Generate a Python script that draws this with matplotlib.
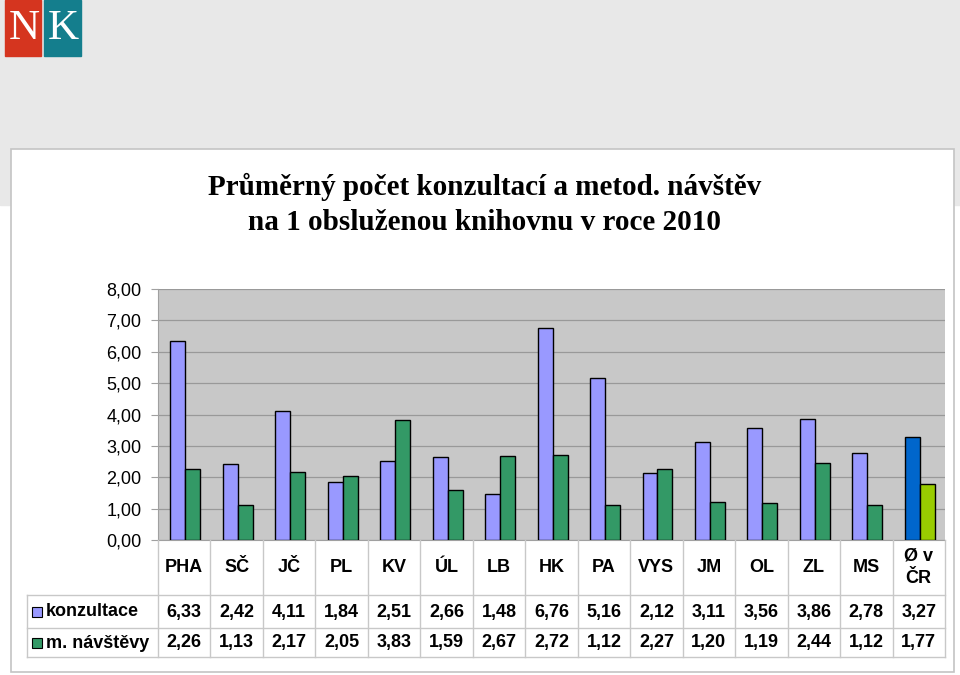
import numpy as np
import matplotlib
matplotlib.use('Agg')
import matplotlib.pyplot as plt
from matplotlib.patches import Rectangle

# data
categories = ['PHA', 'SČ', 'JČ', 'PL', 'KV', 'ÚL', 'LB', 'HK', 'PA', 'VYS',
              'JM', 'OL', 'ZL', 'MS', 'Ø v\nČR']
konzultace = [6.33, 2.42, 4.11, 1.84, 2.51, 2.66, 1.48, 6.76, 5.16, 2.12,
              3.11, 3.56, 3.86, 2.78, 3.27]
navstevy = [2.26, 1.13, 2.17, 2.05, 3.83, 1.59, 2.67, 2.72, 1.12, 2.27,
            1.20, 1.19, 2.44, 1.12, 1.77]
series_names = ['konzultace', 'm. návštěvy']
y_ticks = [0, 1, 2, 3, 4, 5, 6, 7, 8]
title_lines = ['Průměrný počet konzultací a metod. návštěv',
               'na 1 obsluženou knihovnu v roce 2010']

W, H = 960, 675
SANS = 'Liberation Sans'
SERIF = 'Liberation Serif'
FS = 13


def fmt(v):
    return f'{v:.2f}'.replace('.', ',')


def px(x0, y0, x1, y1):
    # pixel box (top-left origin) -> figure fraction rect
    return [x0 / W, 1 - y1 / H, (x1 - x0) / W, (y1 - y0) / H]


fig = plt.figure(figsize=(9.6, 6.75), dpi=100, facecolor='white')

# background, slide header, logo, white chart panel
bg = fig.add_axes([0, 0, 1, 1])
bg.set_xlim(0, W)
bg.set_ylim(H, 0)
bg.axis('off')
bg.add_patch(Rectangle((0, 0), W, 205, color='#E8E8E8'))
bg.add_patch(Rectangle((5, 0), 36, 56, color='#D5351F'))
bg.add_patch(Rectangle((44, 0), 37, 56, color='#147E8D'))
bg.text(24, 29, 'N', color='white', family=SERIF, fontsize=31,
        ha='center', va='center')
bg.text(63, 29, 'K', color='white', family=SERIF, fontsize=31,
        ha='center', va='center')
bg.add_patch(Rectangle((11, 149), 943, 523, facecolor='white',
                       edgecolor='#C4C4C4', lw=1.2))
bg.text(485, 187, title_lines[0], family=SERIF, fontweight='bold',
        fontsize=21, ha='center', va='center')
bg.text(485, 222, title_lines[1], family=SERIF, fontweight='bold',
        fontsize=21, ha='center', va='center')

# bar chart
ax = fig.add_axes(px(158, 289, 945, 540))
n = len(categories)
x = np.arange(n)
c1 = ['#9999FF'] * (n - 1) + ['#0066CC']
c2 = ['#339966'] * (n - 1) + ['#99CC00']
w = 0.285
ax.bar(x + 0.52, konzultace, width=-w, align='edge', color=c1,
       edgecolor='black', lw=1, zorder=3)
ax.bar(x + 0.52, navstevy, width=w, align='edge', color=c2,
       edgecolor='black', lw=1, zorder=3)
ax.set_xlim(0, n)
ax.set_ylim(0, 8)
ax.set_facecolor('#C8C8C8')
ax.yaxis.grid(True, color='#999999', lw=0.9)
ax.set_axisbelow(True)
ax.set_yticks(y_ticks)
ax.set_yticklabels([fmt(v) for v in y_ticks], family=SANS, fontsize=FS)
ax.set_xticks([])
ax.tick_params(axis='y', length=5, color='#A0A0A0', pad=7)
for s in ['top', 'right']:
    ax.spines[s].set_visible(False)
ax.spines['left'].set_color('#A0A0A0')
ax.spines['bottom'].set_color('#A0A0A0')

# data table under the chart
tb = fig.add_axes(px(158, 540, 945, 657))
tb.set_xlim(0, n)
tb.set_ylim(117, 0)
tb.axis('off')
grid_c = '#C8C8C8'
left = -2.5
for i in range(n + 1):
    tb.plot([i, i], [0, 117], color=grid_c, lw=1, clip_on=False)
for yb in [55, 88, 117]:
    tb.plot([left, n], [yb, yb], color=grid_c, lw=1, clip_on=False)
tb.plot([left, left], [55, 117], color=grid_c, lw=1, clip_on=False)

for i, cat in enumerate(categories):
    tb.text(i + 0.5, 27, cat, family=SANS, fontweight='bold', fontsize=FS,
            ha='center', va='center', linespacing=1.4)
    tb.text(i + 0.5, 72, fmt(konzultace[i]), family=SANS, fontweight='bold',
            fontsize=FS, ha='center', va='center')
    tb.text(i + 0.5, 103, fmt(navstevy[i]), family=SANS, fontweight='bold',
            fontsize=FS, ha='center', va='center')

for row_y, name, col in [(72, series_names[0], '#9999FF'),
                         (103, series_names[1], '#339966')]:
    tb.plot([-2.31], [row_y], marker='s', ms=7.5, mfc=col, mec='black',
            mew=0.8, clip_on=False)
    tb.text(-2.14, row_y, name, family=SANS, fontweight='bold', fontsize=FS,
            ha='left', va='center', clip_on=False)

fig.savefig('out.png', dpi=100, facecolor='white')
